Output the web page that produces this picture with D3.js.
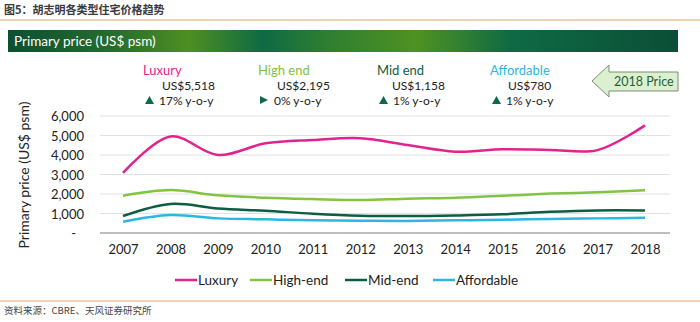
<!DOCTYPE html>
<html><head><meta charset="utf-8">
<script src="https://cdn.jsdelivr.net/npm/d3@7"></script>
<style>
html,body{margin:0;padding:0;background:#fff;}
svg{display:block;}
</style></head>
<body>
<svg id="chart" width="700" height="322"></svg>
<script>
const years = [2007,2008,2009,2010,2011,2012,2013,2014,2015,2016,2017,2018];
const luxury     = [3080,4950,4000,4600,4770,4860,4510,4170,4290,4260,4250,5518];
const highEnd    = [1910,2200,1930,1810,1740,1690,1760,1810,1910,2020,2090,2195];
const midEnd     = [870,1490,1260,1140,990,890,870,900,960,1090,1160,1158];
const affordable = [580,920,750,700,650,630,620,650,680,720,750,780];
const seriesNames = ["Luxury","High-end","Mid-end","Affordable"];
const seriesColors = ["#e2238d","#82c341","#0d5c44","#2cb6e0"];
const yTicks = [0,1000,2000,3000,4000,5000,6000];
const annoTitles = ["Luxury","High end","Mid end","Affordable"];
const annoPrices = ["US$5,518","US$2,195","US$1,158","US$780"];
const annoChanges = ["17% y-o-y","0% y-o-y","1% y-o-y","1% y-o-y"];
const annoArrows = ["up","right","up","up"];

const svg = d3.select("#chart");
const font = "Lato, 'Open Sans', sans-serif";

// Header title
svg.append("text").attr("x",4).attr("y",14)
  .attr("font-family","'Noto Sans CJK SC', sans-serif").attr("font-weight","bold")
  .attr("font-size",11).attr("fill","#3a3a3a").text("图5：胡志明各类型住宅价格趋势");
svg.append("line").attr("x1",0).attr("x2",700).attr("y1",20).attr("y2",20)
  .attr("stroke","#e3a468").attr("stroke-width",1.2);

// Banner gradient
const defs = svg.append("defs");
const grad = defs.append("linearGradient").attr("id","bannerGrad").attr("x1","0%").attr("x2","100%");
[["0%","#0c4f33"],["16%","#276d2c"],["27%","#4e8f22"],["38%","#0f6a44"],["48%","#2f7f30"],["61%","#4f9222"],["75%","#0f6a44"],["100%","#0b4e37"]]
  .forEach(([o,c])=>grad.append("stop").attr("offset",o).attr("stop-color",c));
svg.append("rect").attr("x",8).attr("y",30).attr("width",670).attr("height",22).attr("fill","url(#bannerGrad)");
svg.append("text").attr("x",14).attr("y",46).attr("font-family",font).attr("font-size",13.5)
  .attr("fill","#fff").text("Primary price (US$ psm)");

// Scales
const x = d3.scalePoint().domain(years).range([123,645]);
const y = d3.scaleLinear().domain([0,6000]).range([233,116]);

// Gridlines
svg.append("g").selectAll("line").data(yTicks.filter(d=>d>0)).join("line")
  .attr("x1",100).attr("x2",670).attr("y1",d=>y(d)).attr("y2",d=>y(d))
  .attr("stroke","#e2e2e2").attr("stroke-width",1);

// Y axis labels
const yAxis = d3.axisLeft(y).tickValues(yTicks).tickSize(0).tickPadding(0)
  .tickFormat(d=>d===0?"-":d3.format(",")(d));
const gy = svg.append("g").attr("transform","translate(84,0)").call(yAxis);
gy.select(".domain").remove();
gy.selectAll("text").attr("font-family",font).attr("font-size",13).attr("fill","#222").attr("dy","0.35em");
gy.selectAll("text").filter(d=>d===0).attr("dx",-8);

// X axis
const xAxis = d3.axisBottom(x).tickSize(0).tickPadding(12);
const gx = svg.append("g").attr("transform","translate(0,233)").call(xAxis);
gx.select(".domain").remove();
svg.append("line").attr("x1",100).attr("x2",670).attr("y1",233).attr("y2",233).attr("stroke","#7f7f7f").attr("stroke-width",1.2);
gx.selectAll("text").attr("font-family",font).attr("font-size",13).attr("fill","#222");

// Y title
svg.append("text").attr("transform","translate(29,175) rotate(-90)").attr("text-anchor","middle")
  .attr("font-family",font).attr("font-size",14).attr("fill","#222").text("Primary price (US$ psm)");

// Lines
const allSeries = [luxury,highEnd,midEnd,affordable];
const line = d3.line().x((d,i)=>x(years[i])).y(d=>y(d)).curve(d3.curveCatmullRom.alpha(0.5));
svg.append("g").selectAll("path").data(allSeries).join("path")
  .attr("d",d=>line(d)).attr("fill","none")
  .attr("stroke",(d,i)=>seriesColors[i]).attr("stroke-width",2.5);

// Annotations
const annoX = [143,258,377,490];
const priceX = [162,277,392,508];
annoTitles.forEach((t,i)=>{
  svg.append("text").attr("x",annoX[i]).attr("y",75).attr("font-family",font).attr("font-size",13)
    .attr("fill",seriesColors[i]).text(t);
  svg.append("text").attr("x",priceX[i]).attr("y",90).attr("font-family",font).attr("font-size",12)
    .attr("fill","#222").text(annoPrices[i]);
  const ax = annoX[i]+2, ay = 100;
  if (annoArrows[i]==="up") {
    svg.append("path").attr("d",`M${ax},${ay+4}L${ax+4.5},${ay-4}L${ax+9},${ay+4}Z`).attr("fill","#0d6a48");
  } else {
    svg.append("path").attr("d",`M${ax},${ay-4}L${ax+8},${ay}L${ax},${ay+4}Z`).attr("fill","#0d6a48");
  }
  svg.append("text").attr("x",annoX[i]+16).attr("y",104.5).attr("font-family",font).attr("font-size",12)
    .attr("fill","#222").text(annoChanges[i]);
});

// 2018 Price arrow
svg.append("path")
  .attr("d","M592,81 L609,65 L609,72 L678,72 L678,91 L609,91 L609,97 Z")
  .attr("fill","#dcf0cf").attr("stroke","#7a8f74").attr("stroke-width",1);
svg.append("text").attr("x",614).attr("y",86).attr("font-family",font).attr("font-size",12.5)
  .attr("fill","#1f5f3a").text("2018 Price");

// Legend
const legX = [175,250,345,433];
seriesNames.forEach((n,i)=>{
  svg.append("line").attr("x1",legX[i]).attr("x2",legX[i]+22).attr("y1",280).attr("y2",280)
    .attr("stroke",seriesColors[i]).attr("stroke-width",2.5);
  svg.append("text").attr("x",legX[i]+23).attr("y",285).attr("font-family",font).attr("font-size",13.5)
    .attr("fill","#222").text(n);
});

// Footer
svg.append("line").attr("x1",0).attr("x2",700).attr("y1",301).attr("y2",301)
  .attr("stroke","#e3a468").attr("stroke-width",1.2);
svg.append("text").attr("x",4).attr("y",314).attr("font-family","'Noto Sans CJK SC', sans-serif")
  .attr("font-size",9.5).attr("fill","#444").text("资料来源：CBRE、天风证券研究所");
</script>
</body></html>
